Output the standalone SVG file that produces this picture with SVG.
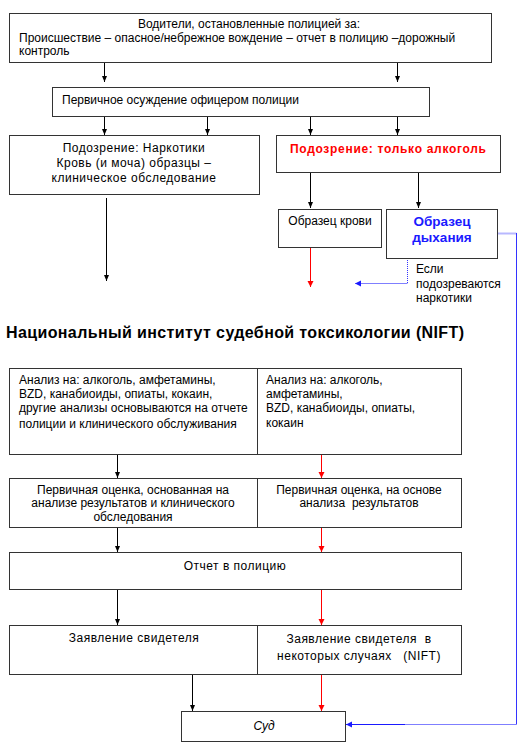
<svg xmlns="http://www.w3.org/2000/svg" width="522" height="749" viewBox="0 0 522 749">
<defs>
<marker id="ak" markerWidth="6" markerHeight="6" refX="6" refY="2.5" orient="auto" markerUnits="userSpaceOnUse"><path d="M0,0 L6,2.5 L0,5 z" fill="#000"/></marker>
<marker id="ar" markerWidth="7" markerHeight="7" refX="6" refY="3" orient="auto" markerUnits="userSpaceOnUse"><path d="M0,0 L6,3 L0,6 z" fill="#f00"/></marker>
<marker id="ab" markerWidth="7" markerHeight="7" refX="6" refY="3" orient="auto" markerUnits="userSpaceOnUse"><path d="M0,0 L6,3 L0,6 z" fill="#1a1aff"/></marker>
</defs>
<style>
.box{fill:#fff;stroke:#333;stroke-width:1}
text{font-family:"Liberation Sans",Arial,sans-serif;font-size:12px;fill:#000}
.c{text-anchor:middle}
.k{stroke:#000;stroke-width:1;fill:none;marker-end:url(#ak)}
.r{stroke:#f00;stroke-width:1;fill:none;marker-end:url(#ar)}
</style>
<rect width="522" height="749" fill="#fff"/>

<g id="connectors">
<path class="k" d="M104.5,62 V82"/>
<path class="k" d="M397.5,62 V82"/>
<path class="k" d="M104.5,116 V135"/>
<path class="k" d="M207.5,116 V135"/>
<path class="k" d="M310.5,116 V135"/>
<path class="k" d="M397.5,116 V135"/>
<path class="k" d="M310.5,172 V208"/>
<path class="k" d="M418.5,172 V208"/>
<path class="k" d="M106.5,198 V281"/>
<path class="r" d="M310.5,247 V287"/>
<path d="M407.5,258 V283.5" stroke="#3333ff" stroke-width="1" stroke-dasharray="1,1" fill="none"/>
<path d="M407.5,283.5 H355" stroke="#7f7fff" stroke-width="1" fill="none" marker-end="url(#ab)"/>
<path d="M497,233.5 H516.5" stroke="#b8b8ff" stroke-width="2" fill="none"/>
<path d="M516.5,233 V724.5" stroke="#3333ff" stroke-width="1" fill="none"/>
<path d="M516.5,724.5 H405" stroke="#7f7fff" stroke-width="1" fill="none"/>
<path d="M405,724.5 H346" stroke="#1a1aff" stroke-width="1" fill="none" marker-end="url(#ab)"/>
<path class="k" d="M117.5,454 V478"/>
<path class="r" d="M321.5,454 V478"/>
<path class="k" d="M117.5,527 V552"/>
<path class="r" d="M321.5,527 V552"/>
<path class="k" d="M117.5,589 V625"/>
<path class="r" d="M321.5,589 V625"/>
<path class="k" d="M192.5,674 V711"/>
<path class="r" d="M321.5,674 V711"/>
</g>

<g id="drivers">
<rect class="box" x="9.5" y="13.5" width="482" height="49"/>
<text class="c" x="249" y="28">Водители, остановленные полицией за:</text>
<text x="19" y="42">Происшествие – опасное/небрежное вождение – отчет в полицию –дорожный</text>
<text x="19" y="55">контроль</text>
</g>

<g id="primary">
<rect class="box" x="52.5" y="87.5" width="377" height="29"/>
<text x="62" y="104">Первичное осуждение офицером полиции</text>
</g>

<g id="drugs">
<rect class="box" x="9.5" y="135.5" width="250" height="59"/>
<text class="c" x="134" y="152" letter-spacing="0.5">Подозрение: Наркотики</text>
<text class="c" x="134" y="167" letter-spacing="0.5">Кровь (и моча) образцы –</text>
<text class="c" x="134" y="182" letter-spacing="0.5">клиническое обследование</text>
</g>

<g id="alcohol">
<rect class="box" x="276.5" y="135.5" width="224" height="37"/>
<text x="290" y="153" font-weight="bold" style="fill:#f00" textLength="196" lengthAdjust="spacing">Подозрение: только алкоголь</text>
</g>

<g id="blood">
<rect class="box" x="278.5" y="209.5" width="103" height="38"/>
<text class="c" x="330" y="225">Образец крови</text>
</g>

<g id="breath">
<rect class="box" x="386.5" y="209.5" width="111" height="49"/>
<text class="c" x="442" y="226" font-weight="bold" style="fill:#1a1aff;font-size:13.5px">Образец</text>
<text class="c" x="442" y="242" font-weight="bold" style="fill:#1a1aff;font-size:13.5px">дыхания</text>
</g>

<g id="if-drugs">
<text x="416" y="273">Если</text>
<text x="416" y="288">подозреваются</text>
<text x="416" y="302">наркотики</text>
</g>

<g id="title">
<text x="6" y="338" font-weight="bold" style="font-size:16px" textLength="458" lengthAdjust="spacing">Национальный институт судебной токсикологии (NIFT)</text>
</g>

<g id="analysis">
<rect class="box" x="9.5" y="368.5" width="248" height="86"/>
<rect class="box" x="257.5" y="368.5" width="204" height="86"/>
<text x="19" y="384">Анализ на: алкоголь, амфетамины,</text>
<text x="19" y="398">BZD, канабиоиды, опиаты, кокаин,</text>
<text x="19" y="412">другие анализы основываются на отчете</text>
<text x="19" y="428">полиции и клинического обслуживания</text>
<text x="266" y="384">Анализ на: алкоголь,</text>
<text x="266" y="398">амфетамины,</text>
<text x="266" y="412">BZD, канабиоиды, опиаты,</text>
<text x="266" y="427">кокаин</text>
</g>

<g id="evaluation">
<rect class="box" x="9.5" y="478.5" width="248" height="49"/>
<rect class="box" x="257.5" y="478.5" width="204" height="49"/>
<text class="c" x="133" y="494">Первичная оценка, основанная на</text>
<text class="c" x="133" y="507">анализе результатов и клинического</text>
<text class="c" x="133" y="521">обследования</text>
<text class="c" x="359" y="494">Первичная оценка, на основе</text>
<text class="c" x="359" y="507" xml:space="preserve">анализа  результатов</text>
</g>

<g id="report">
<rect class="box" x="9.5" y="552.5" width="452" height="37"/>
<text class="c" x="235" y="570" letter-spacing="0.5">Отчет в полицию</text>
</g>

<g id="witness">
<rect class="box" x="9.5" y="625.5" width="248" height="49"/>
<rect class="box" x="257.5" y="625.5" width="204" height="49"/>
<text class="c" x="134" y="642" letter-spacing="0.5">Заявление свидетеля</text>
<text class="c" x="359" y="643" letter-spacing="0.5" xml:space="preserve">Заявление свидетеля  в</text>
<text class="c" x="359" y="660" letter-spacing="0.5" xml:space="preserve">некоторых случаях   (NIFT)</text>
</g>

<g id="court">
<rect class="box" x="181.5" y="711.5" width="164" height="30"/>
<text class="c" x="264" y="730" font-style="italic">Суд</text>
</g>
</svg>
